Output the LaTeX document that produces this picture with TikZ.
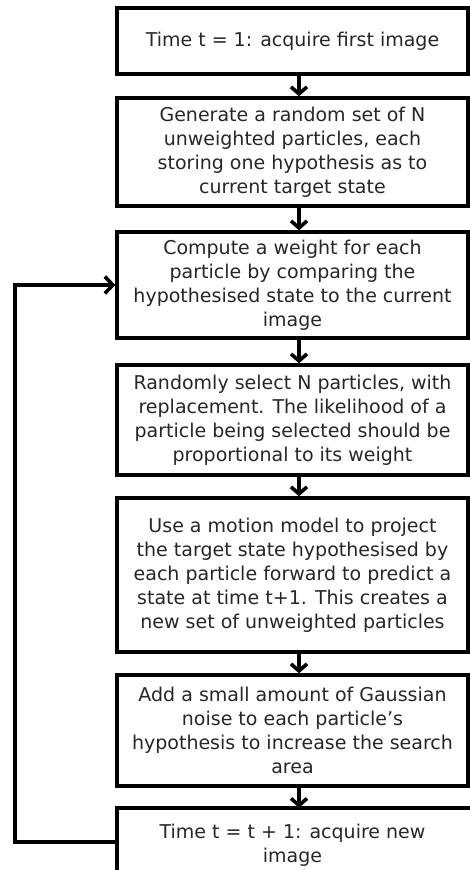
\documentclass[tikz,border=0pt]{standalone}
\usepackage{fontspec}
\setmainfont{DejaVu Sans}
\usetikzlibrary{arrows.meta}
\begin{document}
\begin{tikzpicture}[x=1pt,y=-1pt,
  boxtext/.style={minimum width=351pt,inner sep=0pt,align=center,text=black!85,
    font=\fontsize{19}{24}\selectfont},
  box/.style={boxtext,draw=black,line width=3.4pt},
  edge/.style={line width=3.4pt,line cap=rect},
  flow/.style={line width=3.6pt,-{Straight Barb[length=7pt,width=16pt]}},
  fb/.style={line width=3.6pt,line join=miter,-{Straight Barb[length=8pt,width=17pt]}}]
\useasboundingbox (0,0) rectangle (470,870);
\node[box,minimum height=66pt] (b1) at (292.5,41) {Time t = 1: acquire first image};
\node[box,minimum height=108pt] (b2) at (292.5,152) {Generate a random set of N\\unweighted particles, each\\storing one hypothesis as to\\current target state};
\node[box,minimum height=106pt] (b3) at (292.5,285) {Compute a weight for each\\particle by comparing the\\hypothesised state to the current\\image};
\node[box,minimum height=110pt] (b4) at (292.5,420) {Randomly select N particles, with\\replacement. The likelihood of a\\particle being selected should be\\proportional to its weight};
\node[box,minimum height=154pt] (b5) at (292.5,575) {Use a motion model to project\\the target state hypothesised by\\each particle forward to predict a\\state at time t+1. This creates a\\new set of unweighted particles};
\node[box,minimum height=111pt] (b6) at (292.5,730.5) {Add a small amount of Gaussian\\noise to each particle’s\\hypothesis to increase the search\\area};
\node[boxtext,minimum height=74pt] (b7) at (292.5,845) {Time t = t + 1: acquire new\\image};
\draw[edge] (b7.south west) -- (b7.north west) -- (b7.north east);
\foreach \a/\b in {b1/b2,b2/b3,b3/b4,b4/b5,b5/b6,b6/b7}
  \draw[flow] ([xshift=6.5pt]\a.south) -- ([xshift=6.5pt]\b.north);
\coordinate (c1) at (15,842);
\draw[fb] ([yshift=3pt]b7.west) -- (c1) |- (b3.west);
\end{tikzpicture}
\end{document}
